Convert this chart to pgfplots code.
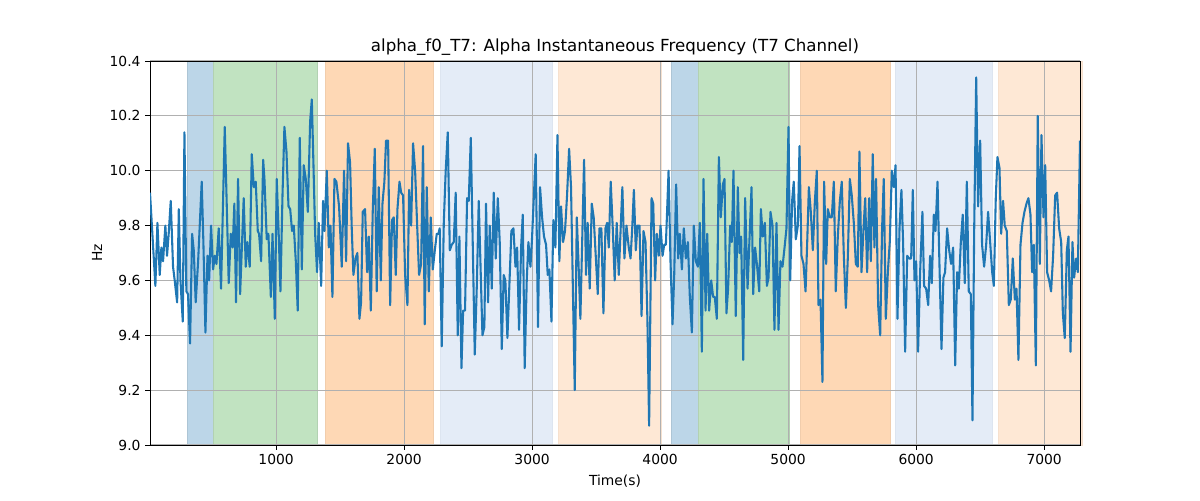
\documentclass[border=0pt]{standalone}
\usepackage{fontspec}
\setmainfont{DejaVu Sans}
\usepackage{pgfplots}
\pgfplotsset{compat=1.18}
\definecolor{tabblue}{RGB}{31,119,180}
\definecolor{spblue}{RGB}{188,214,232}
\definecolor{spgreen}{RGB}{193,227,193}
\definecolor{sporange}{RGB}{254,216,181}
\definecolor{splblue}{RGB}{228,236,247}
\definecolor{splorange}{RGB}{254,232,213}
\definecolor{gridc}{RGB}{176,176,176}
\begin{document}
\begin{tikzpicture}
\begin{axis}[
  set layers,
  scale only axis,
  width=697.5pt, height=288pt,
  xmin=15, xmax=7280, ymin=9.0, ymax=10.4,
  xtick={1000,2000,3000,4000,5000,6000,7000},
  ytick={9.0,9.2,9.4,9.6,9.8,10.0,10.2,10.4},
  scaled x ticks=false, scaled y ticks=false,
  /pgf/number format/assume math mode=true,
  xticklabel style={/pgf/number format/1000 sep={}},
  yticklabel style={/pgf/number format/fixed, /pgf/number format/fixed zerofill, /pgf/number format/precision=1},
  tick label style={font=\fontsize{10.4}{12}\selectfont},
  tick align=outside,
  major tick length=3.6pt,
  xtick pos=bottom, ytick pos=left,
  every tick/.style={black, line width=0.6pt},
  axis line style={line width=0.6pt},
  grid=major,
  major grid style={gridc, line width=0.83pt},
  title={alpha\_f0\_T7: Alpha Instantaneous Frequency (T7 Channel)},
  title style={at={(axis description cs:0.5,1.016)}, anchor=center, font=\fontsize{12.5}{15}\selectfont},
  xlabel={Time(s)},
  xlabel style={at={(axis description cs:0.5,-0.094)}, anchor=center, font=\fontsize{10.4}{12}\selectfont},
  ylabel={Hz},
  ylabel style={at={(axis description cs:-0.057,0.5)}, anchor=center, font=\fontsize{10.4}{12}\selectfont},
]
% background spans
\addplot[on layer=axis background, fill=spblue, draw=spblue!92!black, line width=0.4pt] coordinates {(307,9) (513,9) (513,10.4) (307,10.4)} -- cycle;
\addplot[on layer=axis background, fill=spgreen, draw=spgreen!92!black, line width=0.4pt] coordinates {(513,9) (1318,9) (1318,10.4) (513,10.4)} -- cycle;
\addplot[on layer=axis background, fill=sporange, draw=sporange!95!black, line width=0.4pt] coordinates {(1383,9) (2224,9) (2224,10.4) (1383,10.4)} -- cycle;
\addplot[on layer=axis background, fill=splblue, draw=splblue!97!black, line width=0.4pt] coordinates {(2281,9) (3154,9) (3154,10.4) (2281,10.4)} -- cycle;
\addplot[on layer=axis background, fill=splorange, draw=splorange!97!black, line width=0.4pt] coordinates {(3206,9) (4005,9) (4005,10.4) (3206,10.4)} -- cycle;
\addplot[on layer=axis background, fill=spblue, draw=spblue!92!black, line width=0.4pt] coordinates {(4086,9) (4299,9) (4299,10.4) (4086,10.4)} -- cycle;
\addplot[on layer=axis background, fill=spgreen, draw=spgreen!92!black, line width=0.4pt] coordinates {(4299,9) (5010,9) (5010,10.4) (4299,10.4)} -- cycle;
\addplot[on layer=axis background, fill=sporange, draw=sporange!95!black, line width=0.4pt] coordinates {(5094,9) (5797,9) (5797,10.4) (5094,10.4)} -- cycle;
\addplot[on layer=axis background, fill=splblue, draw=splblue!97!black, line width=0.4pt] coordinates {(5836,9) (6591,9) (6591,10.4) (5836,10.4)} -- cycle;
\addplot[on layer=axis background, fill=splorange, draw=splorange!97!black, line width=0.4pt] coordinates {(6638,9) (7300,9) (7300,10.4) (6638,10.4)} -- cycle;
% signal
\addplot[tabblue, line width=1.56pt, line join=round, mark=none] coordinates {
(15,9.92) (57,9.58) (73,9.81) (91,9.62) (104,9.72) (117,9.67) (135,9.80) (148,9.69) (161,9.77) (177,9.89) (195,9.65) (208,9.60) (227,9.52) (240,9.86) (253,9.60) (271,9.45) (284,10.14) (299,9.56) (312,9.55) (328,9.37) (344,9.77) (357,9.71) (372,9.52) (391,9.67) (419,9.96) (432,9.74) (448,9.41) (464,9.69) (477,9.60) (492,9.80) (508,9.64) (521,9.69) (534,9.66) (552,9.79) (570,9.57) (599,10.16) (630,9.59) (646,9.77) (661,9.72) (674,9.88) (687,9.52) (703,9.97) (719,9.55) (747,9.90) (763,9.65) (776,9.74)
(794,9.65) (810,10.06) (826,9.94) (841,9.96) (857,9.78) (867,9.77) (883,9.67) (899,10.04) (909,9.97) (927,9.75) (940,9.77) (959,9.54) (972,9.77) (990,9.46) (1005,9.97) (1021,9.76) (1034,9.56) (1050,9.91) (1065,10.16) (1081,10.07) (1097,9.87) (1110,9.86) (1125,9.78) (1138,9.80) (1154,9.67) (1169,9.49) (1185,10.12) (1201,9.64) (1216,10.02) (1232,9.97) (1248,9.85) (1266,10.18) (1279,10.26) (1292,10.02) (1305,9.77) (1320,9.63) (1333,9.81) (1352,9.58) (1367,9.89) (1378,9.78) (1396,10.0) (1412,9.72) (1425,9.80) (1440,9.54) (1456,9.97) (1471,9.96) (1492,9.87)
(1513,9.65) (1531,10.0) (1547,9.67) (1562,10.1) (1578,10.03) (1591,9.79) (1604,9.62) (1620,9.68) (1635,9.70) (1651,9.46) (1664,9.52) (1677,9.85) (1695,9.86) (1711,9.63) (1724,9.76) (1740,9.49) (1755,9.85) (1771,10.08) (1786,9.56) (1802,9.94) (1818,9.60) (1831,9.88) (1846,9.96) (1859,10.11) (1875,10.11) (1891,9.51) (1906,9.82) (1919,9.83) (1935,9.62) (1948,9.86) (1964,9.96) (1977,9.92) (1992,9.91) (2008,9.62) (2026,9.51) (2039,9.93) (2055,9.80) (2070,10.10) (2086,10.0) (2102,9.80) (2117,9.62) (2133,9.66) (2148,10.09) (2161,9.44) (2177,9.94) (2193,9.56) (2208,9.83) (2224,9.64) (2240,9.71) (2255,9.77)
(2268,9.77) (2278,9.79) (2294,9.36) (2310,9.81) (2325,10.0) (2341,10.14) (2357,9.71) (2372,9.73) (2388,9.74) (2403,9.92) (2419,9.40) (2432,9.76) (2448,9.28) (2461,9.49) (2476,9.49) (2492,9.90) (2505,9.89) (2521,10.12) (2536,9.74) (2552,9.33) (2568,9.58) (2583,9.89) (2599,9.62) (2612,9.40) (2627,9.43) (2640,9.88) (2656,9.52) (2669,9.80) (2685,9.57) (2700,9.92) (2716,9.68) (2732,9.90) (2747,9.74) (2763,9.35) (2778,9.62) (2791,9.60) (2807,9.39) (2823,9.59) (2838,9.78) (2854,9.79) (2870,9.65) (2883,9.72) (2898,9.42) (2914,9.72) (2927,9.84) (2942,9.28) (2958,9.60) (2971,9.74) (2987,9.65) (2999,9.75) (3028,10.06)
(3046,9.43) (3062,9.94) (3078,9.83) (3093,9.76) (3109,9.73) (3122,9.62) (3135,9.64) (3151,9.45) (3166,9.82) (3182,9.72) (3198,10.13) (3213,9.67) (3226,9.87) (3242,9.74) (3257,9.78) (3273,9.91) (3289,10.08) (3304,9.94) (3333,9.20) (3349,9.83) (3362,9.67) (3377,9.46) (3406,10.04) (3421,9.62) (3434,9.81) (3450,9.57) (3466,9.88) (3481,9.83) (3513,9.55) (3526,9.79) (3541,9.79) (3557,9.48) (3573,9.79) (3586,9.81) (3599,9.72) (3614,9.96) (3630,9.79) (3645,9.60) (3661,9.81) (3677,9.62) (3705,9.94) (3721,9.68) (3737,9.80) (3755,9.72)
(3769,9.68) (3782,9.79) (3795,9.93) (3810,9.71) (3823,9.80) (3839,9.80) (3855,9.47) (3870,9.78) (3886,9.74) (3901,9.45) (3914,9.07) (3933,9.90) (3946,9.88) (3961,9.60) (3974,9.77) (3990,9.69) (4003,9.80) (4019,9.69) (4032,9.73) (4045,9.73) (4066,10.0) (4081,9.67) (4097,9.44) (4110,9.62) (4125,9.95) (4141,9.68) (4154,9.77) (4170,9.64) (4185,9.79) (4201,9.68) (4217,9.74) (4232,9.54) (4248,9.41) (4263,9.80) (4279,9.67) (4295,9.65) (4310,9.81) (4326,9.34) (4339,9.97) (4355,9.49) (4368,9.77) (4383,9.49) (4399,9.60) (4414,9.54) (4427,9.54) (4443,9.46) (4459,10.05) (4474,9.83) (4490,9.95)
(4503,9.97) (4518,9.48) (4531,9.57) (4547,9.80) (4560,9.74) (4573,10.0) (4591,9.47) (4607,9.94) (4620,9.70) (4633,9.76) (4649,9.31) (4664,9.90) (4683,9.57) (4698,9.75) (4714,9.94) (4727,9.55) (4742,9.72) (4758,9.65) (4774,9.56) (4787,9.86) (4802,9.76) (4818,9.81) (4834,9.58) (4847,9.61) (4862,9.85) (4878,9.80) (4893,9.42) (4909,9.81) (4925,9.42) (4940,9.67) (4956,9.65) (4972,9.72) (4987,9.79) (5003,10.16) (5016,9.60) (5031,9.89) (5044,9.96) (5060,9.75) (5076,9.80) (5089,10.09) (5104,9.69) (5120,9.66) (5136,9.56) (5149,9.74) (5162,9.94) (5177,9.85) (5193,9.71) (5209,9.89) (5224,10.0) (5237,9.51)
(5253,9.53) (5268,9.23) (5281,9.96) (5297,9.66) (5310,9.86) (5326,9.83) (5341,9.83) (5357,9.96) (5372,9.56) (5388,9.76) (5404,9.89) (5419,9.96) (5435,9.69) (5451,9.50) (5466,9.68) (5482,9.97) (5497,9.91) (5513,9.81) (5529,9.66) (5544,9.65) (5557,10.07) (5573,9.63) (5589,9.79) (5602,9.90) (5617,9.63) (5633,9.90) (5646,9.67) (5661,10.06) (5674,9.72) (5687,9.97) (5703,9.51) (5719,9.40) (5734,9.79) (5747,9.97) (5763,9.46) (5779,9.63) (5794,9.74) (5810,10.0) (5826,9.94) (5839,10.02) (5854,9.46) (5870,9.79) (5885,9.93) (5898,9.74) (5914,9.34) (5930,9.69) (5945,9.68) (5961,9.68) (5974,9.93)
(5987,9.60) (6000,9.67) (6015,9.34) (6031,9.63) (6049,9.85) (6062,9.58) (6078,9.57) (6094,9.51) (6109,9.69) (6122,9.59) (6138,9.84) (6151,9.78) (6167,9.96) (6182,9.66) (6198,9.35) (6213,9.61) (6226,9.63) (6242,9.79) (6258,9.71) (6273,9.66) (6289,9.72) (6305,9.29) (6320,9.63) (6333,9.57) (6349,9.74) (6364,9.84) (6380,9.59) (6396,9.96) (6411,9.56) (6427,9.55) (6440,9.09) (6453,9.77) (6469,10.34) (6484,9.87) (6500,10.11) (6515,9.73) (6531,9.65) (6547,9.73) (6562,9.85) (6578,9.74) (6594,9.63) (6607,9.58) (6622,9.90) (6635,10.05) (6651,10.01)
(6664,9.77) (6679,9.89) (6692,9.80) (6708,9.78) (6724,9.51) (6739,9.53) (6755,9.68) (6771,9.53) (6784,9.57) (6799,9.31) (6815,9.73) (6831,9.81) (6846,9.85) (6862,9.88) (6877,9.90) (6893,9.84) (6906,9.63) (6919,9.73) (6935,9.29) (6950,10.20) (6966,9.66) (6979,10.13) (6995,9.83) (7008,10.02) (7023,9.63) (7039,9.60) (7054,9.56) (7070,9.69) (7086,9.91) (7101,9.92) (7117,9.79) (7133,9.74) (7146,9.48) (7161,9.39) (7177,9.71) (7190,9.76) (7206,9.34) (7221,9.74) (7234,9.61) (7250,9.68) (7263,9.63) (7280,10.11)
};
\end{axis}
\pgfresetboundingbox
\path[use as bounding box] (-112.5pt,-41.25pt) rectangle (787.5pt,333.75pt);
\end{tikzpicture}
\end{document}
